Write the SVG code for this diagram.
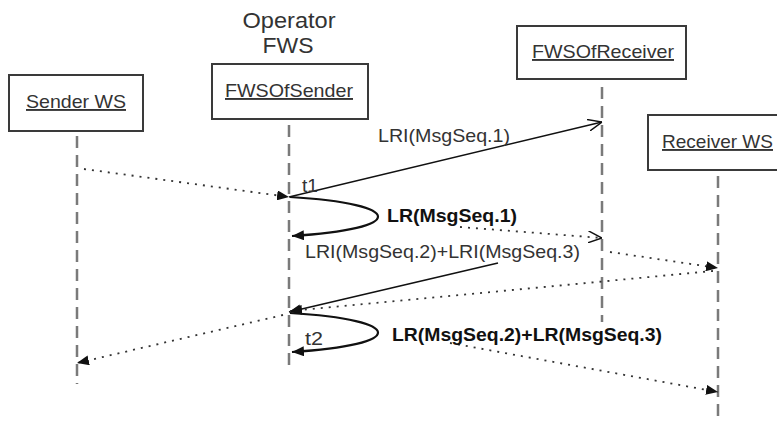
<svg xmlns="http://www.w3.org/2000/svg" width="777" height="421" viewBox="0 0 777 421">
<defs>
<style>
.box{fill:#fff;stroke:#3a3a3a;stroke-width:2}
.life{stroke:#7a7a7a;stroke-width:2.5;stroke-dasharray:12 7;fill:none}
.t{font-family:"Liberation Sans",Arial,sans-serif;font-size:19px;fill:#333}
.u{text-decoration:underline}
.b{font-weight:bold;fill:#111}
.solid{stroke:#111;stroke-width:1.6;fill:none}
.dot{stroke:#333;stroke-width:1.8;stroke-dasharray:2 6;fill:none}
.loop{stroke:#111;stroke-width:2.2;fill:none}
</style>
<marker id="fa" viewBox="0 0 12 10" refX="12" refY="5" markerWidth="12" markerHeight="10" markerUnits="userSpaceOnUse" orient="auto">
<path d="M0,0 L12,5 L0,10 Z" fill="#111"/>
</marker>
<marker id="oa" viewBox="0 0 14 12" refX="14" refY="6" markerWidth="14" markerHeight="12" markerUnits="userSpaceOnUse" orient="auto">
<path d="M0,0 L14,6 L0,12" fill="none" stroke="#111" stroke-width="1.5"/>
</marker>
</defs>
<rect width="777" height="421" fill="#fff"/>

<g id="title">
<text class="t" x="289" y="28" text-anchor="middle" style="font-size:22px" textLength="93" lengthAdjust="spacingAndGlyphs">Operator</text>
<text class="t" x="288" y="53" text-anchor="middle" style="font-size:22px" textLength="51" lengthAdjust="spacingAndGlyphs">FWS</text>
</g>

<g id="sender-ws">
<rect class="box" x="9" y="75" width="134" height="56"/>
<text class="t u" x="76" y="108" text-anchor="middle" textLength="100" lengthAdjust="spacingAndGlyphs">Sender WS</text>
<line class="life" x1="77" y1="136" x2="77" y2="384"/>
</g>

<g id="fws-of-sender">
<rect class="box" x="212" y="64" width="156" height="55"/>
<text class="t u" x="289" y="97" text-anchor="middle" textLength="128" lengthAdjust="spacingAndGlyphs">FWSOfSender</text>
<line class="life" x1="289" y1="125" x2="289" y2="371"/>
</g>

<g id="fws-of-receiver">
<rect class="box" x="517" y="26" width="169" height="53"/>
<text class="t u" x="603" y="58" text-anchor="middle" textLength="142" lengthAdjust="spacingAndGlyphs">FWSOfReceiver</text>
<line class="life" x1="602" y1="87" x2="602" y2="322"/>
</g>

<g id="receiver-ws">
<rect class="box" x="648" y="115" width="140" height="55"/>
<text class="t u" x="662" y="148" textLength="111" lengthAdjust="spacingAndGlyphs">Receiver WS</text>
<line class="life" x1="718" y1="176" x2="718" y2="421"/>
</g>

<g id="connectors">
<line class="dot" x1="84" y1="169" x2="289" y2="197" marker-end="url(#fa)"/>
<line class="solid" x1="289" y1="197" x2="602" y2="122" marker-end="url(#oa)"/>
<path class="loop" d="M290,197 C407,204 407,229 292,236" marker-end="url(#fa)"/>
<line class="dot" x1="460" y1="227" x2="602" y2="238" marker-end="url(#oa)"/>
<line class="dot" x1="610" y1="252" x2="718" y2="268" marker-end="url(#fa)"/>
<line class="solid" x1="498" y1="263" x2="289" y2="312" marker-end="url(#fa)"/>
<line class="dot" x1="713" y1="271" x2="290" y2="311" marker-end="url(#fa)"/>
<path class="loop" d="M290,313 C407,320 407,345 292,352" marker-end="url(#fa)"/>
<line class="dot" x1="283" y1="315" x2="77" y2="363" marker-end="url(#fa)"/>
<line class="dot" x1="450" y1="343" x2="718" y2="392" marker-end="url(#fa)"/>
</g>

<g id="labels">
<text class="t" x="378" y="142" textLength="132" lengthAdjust="spacingAndGlyphs">LRI(MsgSeq.1)</text>
<text class="t" x="302" y="192" textLength="16" lengthAdjust="spacingAndGlyphs">t1</text>
<text class="t b" x="387" y="222" textLength="130" lengthAdjust="spacingAndGlyphs">LR(MsgSeq.1)</text>
<text class="t" x="305" y="258" textLength="275" lengthAdjust="spacingAndGlyphs">LRI(MsgSeq.2)+LRI(MsgSeq.3)</text>
<text class="t" x="305" y="345" textLength="18" lengthAdjust="spacingAndGlyphs">t2</text>
<text class="t b" x="392" y="341" textLength="270" lengthAdjust="spacingAndGlyphs">LR(MsgSeq.2)+LR(MsgSeq.3)</text>
</g>
</svg>
